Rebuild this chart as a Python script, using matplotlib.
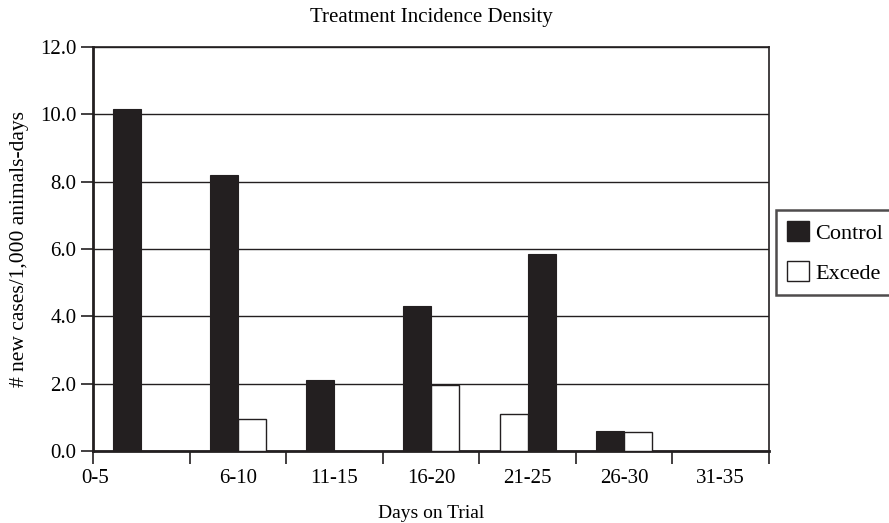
import numpy as np
import matplotlib.pyplot as plt
from matplotlib.patches import Patch

# Data
categories = ['0-5', '6-10', '11-15', '16-20', '21-25', '26-30', '31-35']
control = [10.15, 8.2, 2.1, 4.3, 5.85, 0.6, 0.0]
excede = [0.0, 0.95, 0.0, 1.95, 1.1, 0.55, 0.0]
# in the 21-25 group the Excede bar is drawn first
excede_first = [False, False, False, False, True, False, False]
yticks = [0, 2, 4, 6, 8, 10, 12]

ink = '#231f20'
plt.rcParams['font.family'] = ['Liberation Serif', 'DejaVu Serif']

fig = plt.figure(figsize=(8.89, 5.23), dpi=100)
ax = fig.add_axes([0.1046, 0.1377, 0.7604, 0.7723])

x = np.arange(len(categories))
w = 0.29
sign = np.where(excede_first, 1, -1)
ax.bar(x + sign * w / 2, control, w, color=ink, edgecolor=ink, linewidth=0.8, zorder=3)
ax.bar(x - sign * w / 2, excede, w, color='white', edgecolor=ink, linewidth=1.0, zorder=3)

ax.set_xlim(-0.5, len(categories) - 0.5)
ax.set_ylim(0, 12)
ax.set_yticks(yticks)
ax.set_yticklabels(['{:.1f}'.format(v) for v in yticks], fontsize=15)
ax.yaxis.grid(True, color=ink, linewidth=1.0)
ax.set_axisbelow(True)

# tick marks at group boundaries, labels at group centres (first one at the edge)
ax.set_xticks(np.arange(len(categories) + 1) - 0.5)
ax.set_xticklabels([])
label_pos = [-0.48] + list(x[1:])
ax.set_xticks(label_pos, minor=True)
ax.set_xticklabels(categories, minor=True, fontsize=15)
ax.tick_params(axis='x', which='minor', length=0, pad=13)
ax.tick_params(axis='x', which='major', length=9, width=1.2, color=ink)
ax.tick_params(axis='y', length=9, width=1.2, color=ink, pad=3)

for side in ['top', 'right']:
    ax.spines[side].set_linewidth(1.2)
    ax.spines[side].set_color(ink)
for side in ['left', 'bottom']:
    ax.spines[side].set_linewidth(2.0)
    ax.spines[side].set_color(ink)

ax.set_title('Treatment Incidence Density', fontsize=15, pad=18)
ax.set_xlabel('Days on Trial', fontsize=14, labelpad=12)
ax.set_ylabel('# new cases/1,000 animals-days', fontsize=15.5, labelpad=8)

handles = [Patch(facecolor=ink, edgecolor=ink, label='Control'),
           Patch(facecolor='white', edgecolor=ink, label='Excede')]
leg = fig.legend(handles=handles, loc='center left', bbox_to_anchor=(0.873, 0.517),
                 fontsize=16, frameon=True, fancybox=False, handlelength=1.0,
                 handleheight=1.0, handletextpad=0.25, labelspacing=0.8,
                 borderpad=0.5, borderaxespad=0.0, edgecolor=ink)
leg.get_frame().set_linewidth(1.8)

fig.savefig('out.png', dpi=100)
